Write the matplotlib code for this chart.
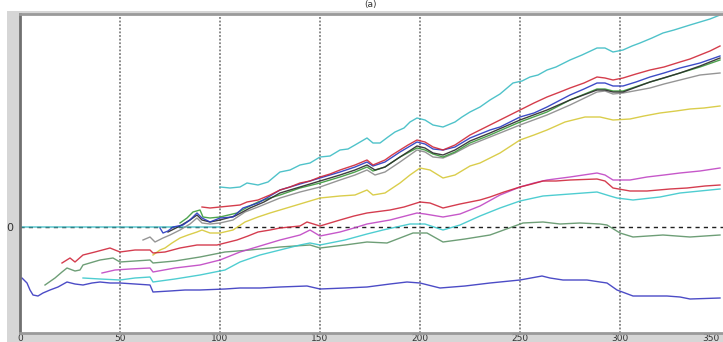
import numpy as np
import matplotlib
matplotlib.use("Agg")
import matplotlib.pyplot as plt
from matplotlib.patches import Rectangle

nan = np.nan

# cumulative series, one (x, y) pair of lists per run
cyan_top_x = [0, 100, nan, 100, 105, 110, 113.5, 119, 124, 130, 135, 140, 145, 150, 155, 160, 164, 167.5, 173.5,
              176.5, 180, 184, 187.5, 192, 195, 198.5, 202.5, 206.5, 211.5, 217.5, 221, 225, 230, 235, 240,
              246.5, 251, 255, 259, 263.5, 268, 275, 281, 288.5, 292.5, 296.5, 301.5, 306, 310, 316, 321.5,
              327, 335, 340, 345, 350]
cyan_top_y = [0, 0, nan, 40, 39, 40, 44, 42, 45, 55, 57, 62, 64, 70, 71, 77, 78, 82, 89,
              84, 84, 90, 95, 99, 105, 109, 107, 102, 100, 105, 110, 115, 120, 127, 133,
              144, 146, 150, 152, 157, 160, 167, 172, 179, 179, 175, 177, 181, 184, 189, 194,
              197, 202, 205, 208, 212]

red_top_x = [91, 95, 100, 105, 110, 113.5, 119, 125, 130, 135, 140, 145, 150, 155, 160, 167.5, 173.5, 176.5,
             182.5, 186, 190, 194, 198.5, 202.5, 206.5, 211.5, 217.5, 225, 230, 235, 240, 245, 250, 257,
             263.5, 270, 275, 282, 288.5, 292.5, 296.5, 301.5, 308, 315, 322, 330, 335, 340, 345, 350]
red_top_y = [20, 19, 20, 21, 22, 25, 27, 32, 37, 40, 44, 46, 50, 53, 57, 62, 67, 62,
             67, 72, 77, 82, 87, 85, 80, 77, 82, 92, 97, 102, 107, 112, 117, 124,
             130, 135, 139, 144, 150, 149, 147, 149, 153, 157, 160, 165, 168, 172, 176, 181]

blue_top_x = [70, 71.5, 74, 76.5, 81.5, 85, 88.5, 91, 95, 100, 106.5, 111.5, 119, 125, 130, 135, 140, 145, 150,
              155, 160, 167.5, 173.5, 176.5, 182.5, 190, 198.5, 202.5, 206.5, 211.5, 217.5, 225, 235,
              240, 250, 257, 263.5, 275, 282, 288.5, 292.5, 296.5, 301.5, 308, 315, 322, 330, 340, 350]
blue_top_y = [-1, -6, -4, 0, 2, 7, 14, 9, 5, 9, 10, 19, 24, 31, 37, 40, 43, 46, 49,
              52, 55, 60, 65, 61, 65, 75, 85, 83, 78, 77, 80, 89, 97,
              100, 110, 114, 120, 132, 138, 144, 144, 141, 141, 145, 150, 154, 159, 164, 171]

green_top_x = [80, 83.5, 86.5, 90, 91.5, 95, 100, 108.5, 113, 119, 125, 130, 140, 150, 160, 167.5, 173.5, 176.5,
               182.5, 190, 198.5, 202.5, 206.5, 211.5, 217.5, 225, 235, 250, 263.5, 275, 288.5, 292.5,
               296.5, 301.5, 315, 322, 330, 340, 350]
green_top_y = [4, 9, 15, 17, 10, 9, 10, 14, 19, 25, 29, 32, 39, 44, 50, 55, 60, 56,
               60, 70, 79, 77, 73, 70, 75, 84, 92, 105, 115, 127, 138, 138,
               136, 136, 145, 149, 154, 160, 167]

black_top_x = [74, 80, 85, 88.5, 91, 95, 100, 107.5, 115, 122, 130, 140, 150, 160, 167.5, 173.5, 177.5,
               182.5, 190, 198.5, 202.5, 206.5, 211.5, 217.5, 225, 235, 250, 263.5, 275, 288.5, 292.5,
               296.5, 301.5, 315, 330, 340, 350]
black_top_y = [-5, 1, 7, 12, 7, 5, 7, 11, 19, 25, 34, 40, 46, 52, 57, 62, 57,
               60, 70, 81, 79, 74, 72, 77, 86, 94, 107, 117, 127, 137, 137,
               135, 135, 145, 154, 161, 169]

gray_top_x = [61.5, 65, 67.5, 71.5, 75, 80, 85, 88.5, 91, 95, 100, 106.5, 112.5, 119, 130, 140, 150, 160,
              167.5, 173.5, 177.5, 182.5, 190, 198.5, 202.5, 206.5, 211.5, 217.5, 225, 235, 250, 263.5,
              275, 288.5, 292.5, 296.5, 301.5, 315, 322, 330, 340, 350]
gray_top_y = [-13, -10, -15, -11, -8, -3, 3, 9, 4, 3, 4, 7, 15, 20, 29, 35, 40, 47,
              52, 57, 52, 55, 65, 77, 75, 70, 69, 74, 82, 90, 102, 112,
              122, 135, 136, 133, 134, 139, 143, 147, 152, 154]

yellow_x = [66.5, 70, 72.5, 76, 80, 84, 88.5, 91, 95, 100, 106.5, 112.5, 119, 125, 130, 140, 150, 155, 160,
            167.5, 173.5, 176.5, 182.5, 190, 195, 200, 205, 211.5, 217.5, 225, 230, 240, 250, 257,
            263.5, 272.5, 282.5, 290, 296.5, 305, 312, 320, 328, 335, 342, 350]
yellow_y = [-28, -23, -21, -16, -11, -8, -5, -3, -6, -6, -3, 5, 10, 14, 17, 23, 29, 30, 31,
            32, 37, 32, 34, 44, 52, 59, 57, 49, 52, 61, 64, 74, 87, 92,
            97, 105, 110, 110, 107, 108, 111, 114, 116, 118, 119, 121]

red_low_x = [21, 25, 27.5, 31.5, 37.5, 45, 50, 57.5, 65, 66.5, 72.5, 80, 88.5, 98.5, 108.5, 114, 119, 125,
             130, 140, 143.5, 150, 160, 167, 173.5, 185, 192, 200, 205, 211.5, 220, 230, 235, 242, 250,
             256, 261.5, 268, 275, 288.5, 292.5, 296.5, 305, 313.5, 325, 333.5, 342.5, 350]
red_low_y = [-36, -31, -35, -28, -25, -21, -25, -23, -23, -26, -25, -21, -18, -18, -13, -9, -5, -3,
             -1, 1, 5, 1, 7, 11, 14, 17, 20, 25, 24, 19, 23, 27, 30, 35, 40,
             43, 46, 46, 47, 48, 46, 39, 36, 36, 38, 39, 41, 42]

magenta_x = [41, 47.5, 55, 65, 66.5, 77.5, 90, 100, 110, 120, 130, 140, 145, 150, 160, 167, 173.5, 185,
             198.5, 202.5, 211.5, 220, 230, 240, 250, 257, 263.5, 275, 288.5, 292.5, 296.5, 305, 313.5,
             322, 330, 340, 350]
magenta_y = [-46, -43, -42, -41, -45, -41, -38, -33, -25, -19, -13, -8, -3, -9, -5, -1, 3, 7,
             14, 13, 10, 13, 21, 32, 40, 44, 47, 50, 54, 52, 47, 47, 50,
             52, 54, 56, 59]

cyan_low_x = [31.5, 40, 50, 57.5, 65, 66.5, 77.5, 90, 102.5, 110, 120, 130, 140, 145, 150, 162.5, 173.5,
              181.5, 195, 202.5, 211.5, 220, 230, 240, 250, 261.5, 275, 288.5, 295, 298.5, 306.5, 320,
              330, 340, 350]
cyan_low_y = [-51, -52, -53, -51, -50, -55, -52, -48, -43, -35, -28, -23, -18, -16, -18, -13, -7,
              -3, 3, 3, -3, 2, 11, 19, 26, 31, 33, 35, 31, 29, 27, 30,
              34, 36, 38]

green_low_x = [12.5, 17.5, 21, 23.5, 27.5, 30, 31.5, 40, 46.5, 50, 57.5, 65, 66.5, 77.5, 90, 102.5, 115,
               130, 145, 150, 162.5, 173.5, 183.5, 190, 196.5, 203.5, 211.5, 222.5, 235, 251.5, 261.5,
               270, 280, 290, 293.5, 300, 306.5, 321.5, 335, 350]
green_low_y = [-58, -51, -45, -41, -44, -43, -38, -33, -31, -35, -34, -33, -36, -34, -30, -25, -23,
               -20, -18, -21, -18, -15, -16, -11, -6, -6, -15, -12, -8, 4, 5,
               3, 4, 3, 2, -6, -10, -8, -10, -8]

blue_low_x = [0, 1, 3.5, 5, 6.5, 9, 11.5, 15, 19, 23.5, 27.5, 31.5, 36, 40, 45, 50, 57.5, 65, 66.5, 75,
              82.5, 90, 102.5, 110, 120, 130, 143.5, 150, 162.5, 173.5, 185, 193.5, 200, 210, 222.5, 235,
              250, 261, 265, 271.5, 283.5, 290, 293.5, 298.5, 306.5, 323.5, 330, 335, 350]
blue_low_y = [-51, -51, -56, -63, -68, -69, -66, -63, -60, -55, -57, -58, -56, -55, -56, -56, -57, -58, -65, -64,
              -63, -63, -62, -61, -61, -60, -59, -62, -61, -60, -57, -55, -56, -61, -59, -56,
              -53, -49, -51, -53, -53, -55, -56, -63, -69, -69, -70, -72, -71]

series = [
    (cyan_top_x, cyan_top_y, "#3cbcc4"),
    (yellow_x, yellow_y, "#d6c838"),
    (gray_top_x, gray_top_y, "#8a8a8a"),
    (green_top_x, green_top_y, "#3a9a3a"),
    (black_top_x, black_top_y, "#2a2a2a"),
    (blue_top_x, blue_top_y, "#2838c0"),
    (red_top_x, red_top_y, "#d02838"),
    (green_low_x, green_low_y, "#5e9468"),
    (cyan_low_x, cyan_low_y, "#3cc8cc"),
    (magenta_x, magenta_y, "#c046c4"),
    (red_low_x, red_low_y, "#d0283c"),
    (blue_low_x, blue_low_y, "#3838c0"),
]

W, H = 723, 342
fig = plt.figure(figsize=(W / 100, H / 100), dpi=100)
fig.patch.set_facecolor("white")

# grey window frame around the plot, kept behind the axes
panel = "#d6d6d6"
for rect in [(7 / W, 0, 13 / W, (H - 11) / H),
             (7 / W, 0, 1, 9 / H),
             (7 / W, (H - 14) / H, 1, 3 / H)]:
    fig.patches.append(Rectangle(rect[:2], rect[2], rect[3], transform=fig.transFigure,
                                 facecolor=panel, edgecolor="none", zorder=-5))

ax = fig.add_axes([20 / W, 9 / H, 704 / W, (333 - 14) / H])
ax.set_zorder(1)
ax.set_facecolor("white")
ax.set_xlim(0, 352)
ax.set_ylim(-106, 213)

for xv in range(50, 301, 50):
    ax.axvline(xv, color="#808080", lw=1.3, ls=(0, (1, 1)), zorder=1)
ax.axhline(0, color="#202020", lw=1.0, ls=(0, (3, 3)), zorder=1)

for xs, ys, c in series:
    ax.plot(xs, ys, color=c, lw=1.0, alpha=0.9, zorder=2)

ax.set_xticks(range(0, 351, 50))
ax.set_yticks([0])
ax.tick_params(axis="x", length=0, pad=1, labelsize=6.5, labelcolor="#333333")
ax.tick_params(axis="y", length=0, pad=5, labelsize=8, labelcolor="#333333")
# last x label sits at the window edge, so anchor it by its right side
ax.get_xticklabels()[-1].set_horizontalalignment("right")
for side, col in [("left", "#707070"), ("top", "#9a9a9a"), ("bottom", "#9a9a9a")]:
    ax.spines[side].set_color(col)
    ax.spines[side].set_linewidth(2)
ax.spines["right"].set_visible(False)

fig.text(371 / W, 0.999, "(a)", ha="center", va="top", fontsize=6.5, color="#333333")

fig.savefig("out.png", dpi=100, facecolor=fig.get_facecolor())
